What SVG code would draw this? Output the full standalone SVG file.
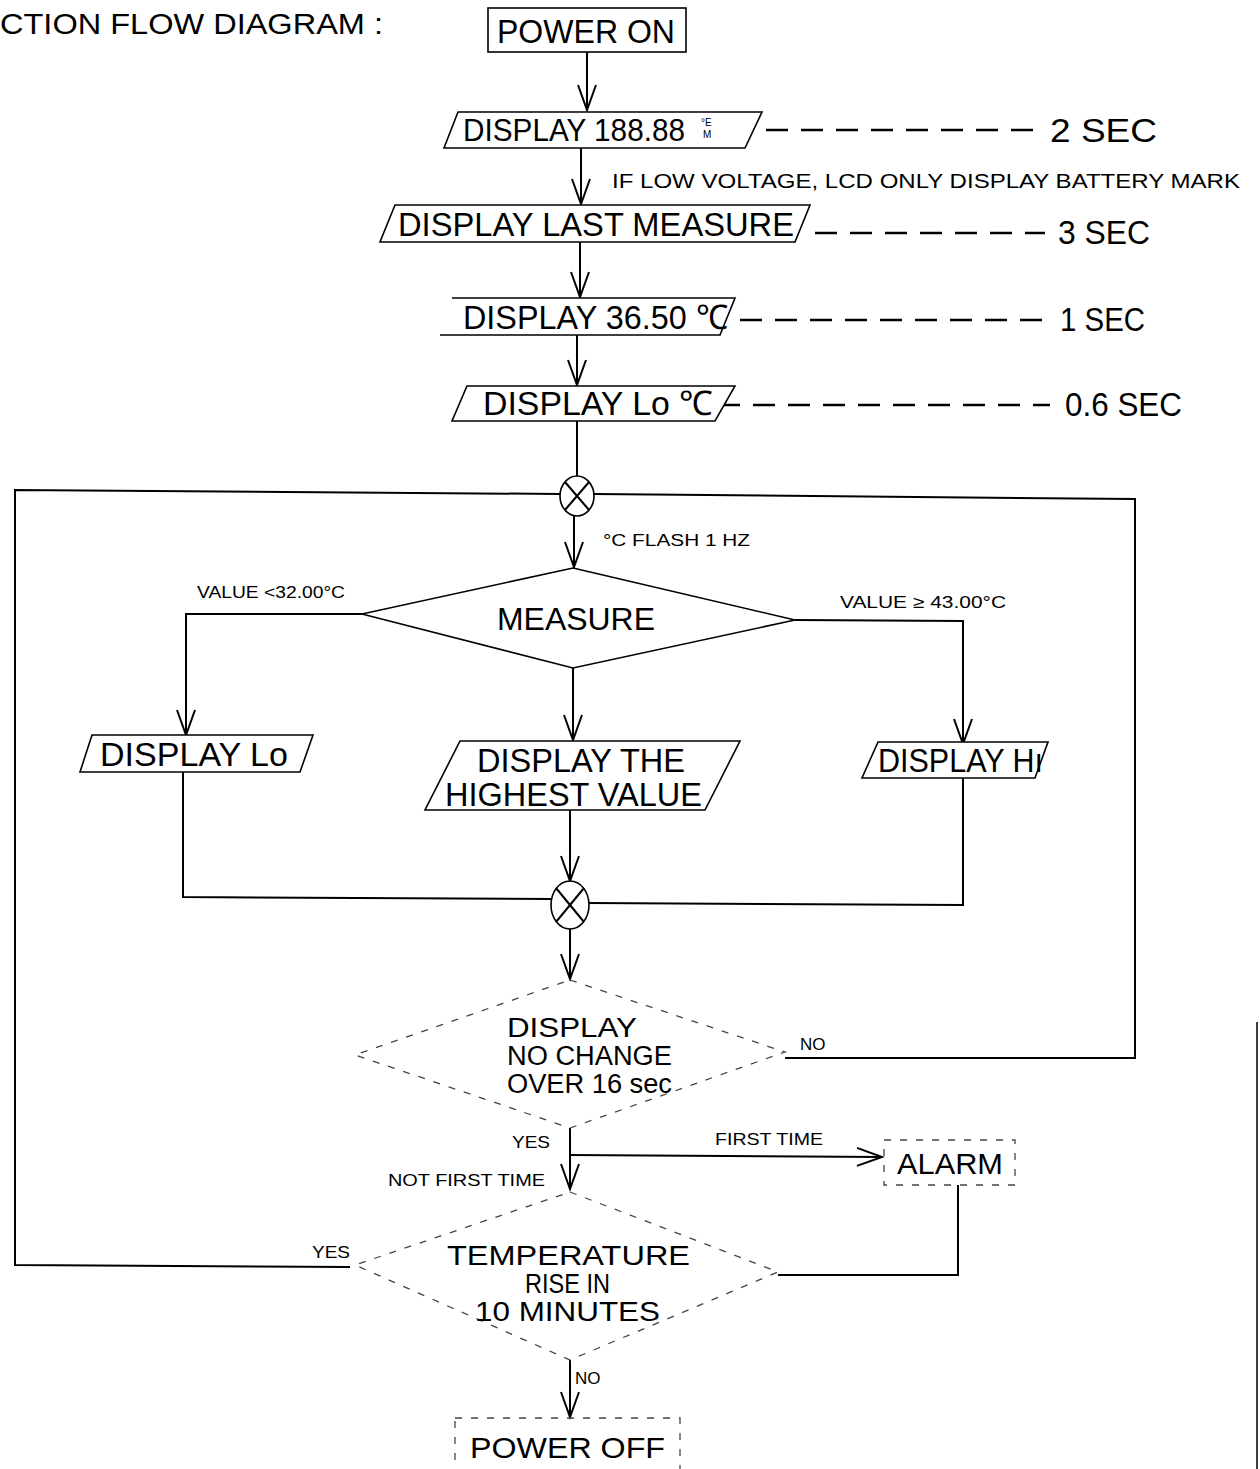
<svg xmlns="http://www.w3.org/2000/svg" width="1260" height="1469" viewBox="0 0 1260 1469">
<style>
  text { font-family: "Liberation Sans", Arial, sans-serif; fill: #000; }
  .big { font-size: 34px; }
  .mid { font-size: 31px; }
  .sm { font-size: 17px; }
  .lbl { font-size: 21px; }
  .shape { fill: #fff; stroke: #000; stroke-width: 1.6; }
  .faint { fill: none; stroke: #444; stroke-width: 1.3; stroke-dasharray: 7 9; }
  .conn { fill: none; stroke: #000; stroke-width: 2; }
  .dash { fill: none; stroke: #000; stroke-width: 2.5; stroke-dasharray: 22 13; }
  .circ { fill: #fff; stroke: #000; stroke-width: 1.6; }
</style>
<defs>
  <marker id="v" viewBox="-27 -11 30 22" refX="0" refY="0" markerWidth="30" markerHeight="22" markerUnits="userSpaceOnUse" orient="auto">
    <path d="M-25,-9 L0,0 L-25,9" fill="none" stroke="#000" stroke-width="2"/>
  </marker>
</defs>

<text x="0" y="34" font-size="29" textLength="383" lengthAdjust="spacingAndGlyphs">CTION FLOW DIAGRAM  :</text>

<g id="connectors">
  <line class="conn" x1="587" y1="52" x2="587" y2="110" marker-end="url(#v)"/>
  <line class="conn" x1="581" y1="148" x2="581" y2="204" marker-end="url(#v)"/>
  <line class="conn" x1="580" y1="242" x2="580" y2="297" marker-end="url(#v)"/>
  <line class="conn" x1="577" y1="335" x2="577" y2="385" marker-end="url(#v)"/>
  <line class="conn" x1="577" y1="421" x2="577" y2="476"/>
  <line class="conn" x1="574" y1="516" x2="574" y2="567" marker-end="url(#v)"/>
  <polyline class="conn" points="362,614 186,614 186,735" marker-end="url(#v)"/>
  <polyline class="conn" points="795,620 963,621 963,744" marker-end="url(#v)"/>
  <line class="conn" x1="573" y1="668" x2="573" y2="740" marker-end="url(#v)"/>
  <polyline class="conn" points="183,772 183,897 551,899"/>
  <polyline class="conn" points="963,778 963,905 589,903"/>
  <line class="conn" x1="570" y1="810" x2="570" y2="881" marker-end="url(#v)"/>
  <line class="conn" x1="570" y1="929" x2="570" y2="979" marker-end="url(#v)"/>
  <polyline class="conn" points="560,494 15,490 15,1265 350,1267"/>
  <polyline class="conn" points="785,1058 1135,1058 1135,499 594,494"/>
  <line class="conn" x1="570" y1="1128" x2="570" y2="1189" marker-end="url(#v)"/>
  <line class="conn" x1="570" y1="1155" x2="882" y2="1157" marker-end="url(#v)"/>
  <polyline class="conn" points="958,1185 958,1275 778,1275"/>
  <line class="conn" x1="570" y1="1360" x2="570" y2="1417" marker-end="url(#v)"/>
  <line class="dash" x1="766" y1="130" x2="1040" y2="130"/>
  <line class="dash" x1="815" y1="233" x2="1045" y2="233"/>
  <line class="dash" x1="740" y1="320" x2="1050" y2="320"/>
  <line class="dash" x1="718" y1="405" x2="1050" y2="405"/>
</g>

<g id="power-on">
  <rect class="shape" x="488" y="8" width="198" height="44"/>
  <text class="big" x="497" y="43" textLength="178" lengthAdjust="spacingAndGlyphs">POWER ON</text>
</g>

<g id="display-188">
  <polygon class="shape" points="458,112 762,112 745,148 444,148"/>
  <text x="463" y="141" font-size="32" textLength="222" lengthAdjust="spacingAndGlyphs">DISPLAY 188.88</text>
  <text font-size="10"><tspan x="701" y="126">°E</tspan><tspan x="703" y="138">M</tspan></text>
  <text x="1050" y="142" font-size="33" textLength="107" lengthAdjust="spacingAndGlyphs">2 SEC</text>
  <text class="lbl" x="612" y="188" textLength="628" lengthAdjust="spacingAndGlyphs">IF LOW VOLTAGE, LCD ONLY DISPLAY BATTERY MARK</text>
</g>

<g id="display-last">
  <polygon class="shape" points="395,205 810,205 795,242 380,242"/>
  <text class="big" x="398" y="236" textLength="396" lengthAdjust="spacingAndGlyphs">DISPLAY LAST MEASURE</text>
  <text x="1058" y="244" font-size="33" textLength="92" lengthAdjust="spacingAndGlyphs">3 SEC</text>
</g>

<g id="display-3650">
  <path class="shape" d="M452,298 L735,298 L720,335 L440,335"/>
  <text class="big" x="463" y="329" textLength="265" lengthAdjust="spacingAndGlyphs">DISPLAY 36.50 ℃</text>
  <text x="1060" y="331" font-size="33" textLength="85" lengthAdjust="spacingAndGlyphs">1 SEC</text>
</g>

<g id="display-lo-c">
  <polygon class="shape" points="467,386 735,386 715,421 452,421"/>
  <text class="big" x="483" y="415" textLength="230" lengthAdjust="spacingAndGlyphs">DISPLAY Lo ℃</text>
  <text x="1065" y="416" font-size="33" textLength="117" lengthAdjust="spacingAndGlyphs">0.6 SEC</text>
</g>

<g id="join-1">
  <ellipse class="circ" cx="577" cy="496" rx="17" ry="20"/>
  <line class="conn" x1="565" y1="482" x2="589" y2="510"/>
  <line class="conn" x1="589" y1="482" x2="565" y2="510"/>
  <text x="603" y="546" font-size="16" textLength="147" lengthAdjust="spacingAndGlyphs">°C FLASH 1 HZ</text>
</g>

<g id="measure">
  <polygon class="shape" points="573,568 795,620 573,668 362,614"/>
  <text class="mid" x="497" y="630" textLength="158" lengthAdjust="spacingAndGlyphs">MEASURE</text>
  <text class="sm" x="197" y="598" textLength="148" lengthAdjust="spacingAndGlyphs">VALUE &lt;32.00°C</text>
  <text class="sm" x="840" y="608" textLength="166" lengthAdjust="spacingAndGlyphs">VALUE ≥  43.00°C</text>
</g>

<g id="display-lo">
  <polygon class="shape" points="92,735 313,735 300,772 80,772"/>
  <text x="100" y="766" font-size="33" textLength="188" lengthAdjust="spacingAndGlyphs">DISPLAY  Lo</text>
</g>

<g id="display-highest">
  <polygon class="shape" points="460,741 740,741 705,810 425,810"/>
  <text x="477" y="772" font-size="33" textLength="208" lengthAdjust="spacingAndGlyphs">DISPLAY THE</text>
  <text x="445" y="806" font-size="33" textLength="257" lengthAdjust="spacingAndGlyphs">HIGHEST VALUE</text>
</g>

<g id="display-hi">
  <polygon class="shape" points="878,742 1048,742 1035,778 862,778"/>
  <text x="878" y="772" font-size="33" textLength="165" lengthAdjust="spacingAndGlyphs">DISPLAY Hı</text>
</g>

<g id="join-2">
  <ellipse class="circ" cx="570" cy="905" rx="19" ry="24"/>
  <line class="conn" x1="556" y1="888" x2="584" y2="922"/>
  <line class="conn" x1="584" y1="888" x2="556" y2="922"/>
</g>

<g id="no-change">
  <polygon class="faint" points="570,980 785,1052 570,1128 355,1055"/>
  <text x="507" y="1037" font-size="27" textLength="130" lengthAdjust="spacingAndGlyphs">DISPLAY</text>
  <text x="507" y="1065" font-size="27" textLength="165" lengthAdjust="spacingAndGlyphs">NO CHANGE</text>
  <text x="507" y="1093" font-size="27" textLength="165" lengthAdjust="spacingAndGlyphs">OVER 16 sec</text>
  <text class="sm" x="800" y="1050">NO</text>
  <text class="sm" x="512" y="1148" textLength="38" lengthAdjust="spacingAndGlyphs">YES</text>
  <text class="sm" x="715" y="1145" textLength="108" lengthAdjust="spacingAndGlyphs">FIRST TIME</text>
  <text class="sm" x="388" y="1186" textLength="157" lengthAdjust="spacingAndGlyphs">NOT FIRST TIME</text>
</g>

<g id="alarm">
  <rect class="faint" x="884" y="1140" width="131" height="45"/>
  <text x="897" y="1174" font-size="30" textLength="106" lengthAdjust="spacingAndGlyphs">ALARM</text>
</g>

<g id="temperature">
  <polygon class="faint" points="570,1192 778,1272 570,1360 355,1265"/>
  <text x="447" y="1265" font-size="27" textLength="243" lengthAdjust="spacingAndGlyphs">TEMPERATURE</text>
  <text x="525" y="1293" font-size="27" textLength="85" lengthAdjust="spacingAndGlyphs">RISE IN</text>
  <text x="475" y="1321" font-size="27" textLength="185" lengthAdjust="spacingAndGlyphs">10 MINUTES</text>
  <text class="sm" x="312" y="1258" textLength="38" lengthAdjust="spacingAndGlyphs">YES</text>
  <text class="sm" x="575" y="1384">NO</text>
</g>

<g id="power-off">
  <rect class="faint" x="455" y="1418" width="225" height="60"/>
  <text x="470" y="1458" font-size="30" textLength="195" lengthAdjust="spacingAndGlyphs">POWER OFF</text>
</g>

<line x1="1257" y1="1022" x2="1257" y2="1469" stroke="#000" stroke-width="1.5"/>
</svg>
